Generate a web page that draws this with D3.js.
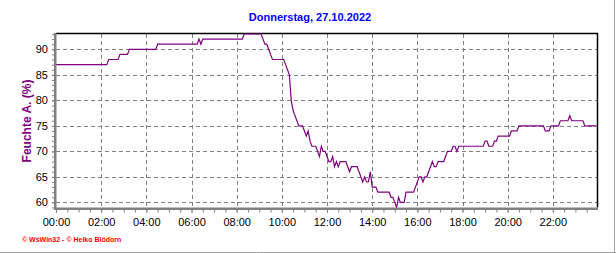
<!DOCTYPE html>
<html>
<head>
<meta charset="utf-8">
<script src="https://cdn.jsdelivr.net/npm/d3@7"></script>
<style>
  html, body { margin: 0; padding: 0; background: #fff; }
  #graph { width: 616px; height: 253px; }
  text { font-family: Arial, "Liberation Sans", sans-serif; }
</style>
</head>
<body>
<div id="graph"></div>
<script>
// chart texts
var title = "Donnerstag, 27.10.2022";
var yLabel = "Feuchte A. (%)";
var footer = "\u00a9 WsWin32 - \u00a9 Heiko Bl\u00f6dorn";

// axis ticks
var xTickLabels = ["00:00", "02:00", "04:00", "06:00", "08:00", "10:00",
                   "12:00", "14:00", "16:00", "18:00", "20:00", "22:00"];
var yTickValues = [60, 65, 70, 75, 80, 85, 90];

// humidity in %, one value every 5 minutes, one row per hour
var stepMinutes = 5;
var humidity = [
  87,87,87,87,87,87,87,87,87,87,87,87,
  87,87,87,87,87,87,87,87,87,87,87,87,
  87,87,87,87,88,88,88,88,88,88,89,89,
  89,89,89,90,90,90,90,90,90,90,90,90,
  90,90,90,90,90,90,91,91,91,91,91,91,
  91,91,91,91,91,91,91,91,91,91,91,91,
  91,91,91,91,92,91,92,92,92,92,92,92,
  92,92,92,92,92,92,92,92,92,92,92,92,
  92,92,92,92,93,93,93,93,93,93,93,93,
  93,93,92,91,91,90,89,88,88,88,88,88,
  88,88,87,86,85,80,78,77,76,75,75,75,
  74,73,74,72,71,71,71,70,69,71,70,70,
  69,68,68,69,67,68,67,68,68,68,68,67,
  66,67,67,67,67,66,65,64,65,64,64,66,
  63,63,63,62,62,62,62,62,62,62,61,61,
  60,59,61,60,60,60,62,62,62,62,62,63,
  64,65,65,64,65,65,66,67,68,67,67,68,
  68,68,68,69,70,70,70,71,71,70,71,71,
  71,71,71,71,71,71,71,71,71,71,71,71,
  72,72,71,71,71,72,72,73,73,73,73,73,
  73,73,74,74,74,74,75,75,75,75,75,75,
  75,75,75,75,75,75,75,75,74,74,74,75,
  75,75,75,75,76,76,76,76,76,77,76,76,
  76,76,76,76,76,75,75,75,75,75,75,75
];

drawGraph(616, 253);

function drawGraph(w, h) {
  var left = 56, right = 598, top = 34, bottom = 207.5;

  var svg = d3.select("#graph").append("svg")
      .attr("width", w)
      .attr("height", h);

  // scales: minutes of the day / humidity
  var x = d3.scaleLinear().domain([0, 1440]).range([left, right]);
  var y = d3.scaleLinear().domain([59, 93]).range([bottom, top]);

  var majorX = xTickLabels.map(function(d, i) { return i * 120; });
  var minorX = d3.range(0, 1440, 30);
  var minorY = d3.range(59, 94, 1);

  // outer frame (light gray on right and bottom)
  svg.append("line").attr("x1", 0).attr("x2", w).attr("y1", h - 0.5).attr("y2", h - 0.5)
      .attr("stroke", "#a0a0a0");
  svg.append("line").attr("x1", w - 1.5).attr("x2", w - 1.5).attr("y1", 0).attr("y2", h)
      .attr("stroke", "#a0a0a0");

  // title
  svg.append("text")
      .attr("x", 310).attr("y", 21)
      .attr("text-anchor", "middle")
      .attr("fill", "#0000ff")
      .style("font-size", "11px")
      .style("font-weight", "bold")
      .text(title);

  // dashed grid
  svg.append("g").selectAll("line")
      .data(yTickValues)
      .enter().append("line")
      .attr("x1", left).attr("x2", right)
      .attr("y1", function(d) { return Math.round(y(d)) + 0.5; })
      .attr("y2", function(d) { return Math.round(y(d)) + 0.5; })
      .attr("stroke", "#808080")
      .attr("stroke-dasharray", "4,3");
  svg.append("g").selectAll("line")
      .data(majorX.slice(1))
      .enter().append("line")
      .attr("x1", function(d) { return Math.round(x(d)) + 0.5; })
      .attr("x2", function(d) { return Math.round(x(d)) + 0.5; })
      .attr("y1", top).attr("y2", bottom)
      .attr("stroke", "#808080")
      .attr("stroke-dasharray", "4,3");

  // top and right border
  svg.append("path")
      .attr("d", "M" + left + "," + (top - 0.5) + "H" + (right - 0.5) + "V" + bottom)
      .attr("fill", "none")
      .attr("stroke", "#000")
      .attr("stroke-width", 1.5);

  // humidity line
  var line = d3.line()
      .x(function(d, i) { return x(i * stepMinutes); })
      .y(function(d) { return y(d); });
  svg.append("path")
      .datum(humidity)
      .attr("d", line)
      .attr("fill", "none")
      .attr("stroke", "#800080")
      .attr("stroke-width", 1.2);

  // x axis
  var xMinor = svg.append("g")
      .attr("transform", "translate(0," + (bottom + 1) + ")")
      .call(d3.axisBottom(x).tickValues(minorX).tickFormat("").tickSize(4));
  var xAxis = svg.append("g")
      .attr("transform", "translate(0," + (bottom + 1) + ")")
      .call(d3.axisBottom(x).tickValues(majorX)
        .tickFormat(function(d, i) { return xTickLabels[i]; })
        .tickSize(4).tickPadding(6));
  xAxis.selectAll("text").style("font-size", "11px").attr("fill", "#000")
      .style("font-family", "Arial, 'Liberation Sans', sans-serif");

  // y axis
  var yMinor = svg.append("g")
      .attr("transform", "translate(" + (left - 1) + ",0)")
      .call(d3.axisLeft(y).tickValues(minorY).tickFormat("").tickSize(3));
  var yAxis = svg.append("g")
      .attr("transform", "translate(" + (left - 1) + ",0)")
      .call(d3.axisLeft(y).tickValues(yTickValues).tickSize(3).tickPadding(4));
  yAxis.selectAll("text").style("font-size", "11px").attr("fill", "#000")
      .style("font-family", "Arial, 'Liberation Sans', sans-serif");

  [xMinor, xAxis, yMinor, yAxis].forEach(function(a) {
    a.select(".domain").remove();
    a.selectAll("line").attr("stroke", "#808080");
  });

  // thick gray axis lines
  svg.append("rect").attr("x", left - 2).attr("y", top - 1)
      .attr("width", 2.5).attr("height", bottom - top + 3)
      .attr("fill", "#808080");
  svg.append("rect").attr("x", left - 2).attr("y", bottom)
      .attr("width", right - left + 2).attr("height", 2.5)
      .attr("fill", "#808080");

  // y label
  svg.append("text")
      .attr("transform", "translate(31,121) rotate(-90)")
      .attr("text-anchor", "middle")
      .attr("fill", "#800080")
      .style("font-size", "12px")
      .style("font-weight", "bold")
      .text(yLabel);

  // footer
  svg.append("text")
      .attr("x", 22).attr("y", 242)
      .attr("fill", "#ff0000")
      .style("font-size", "7px")
      .style("font-weight", "bold")
      .text(footer);
}
</script>
</body>
</html>
